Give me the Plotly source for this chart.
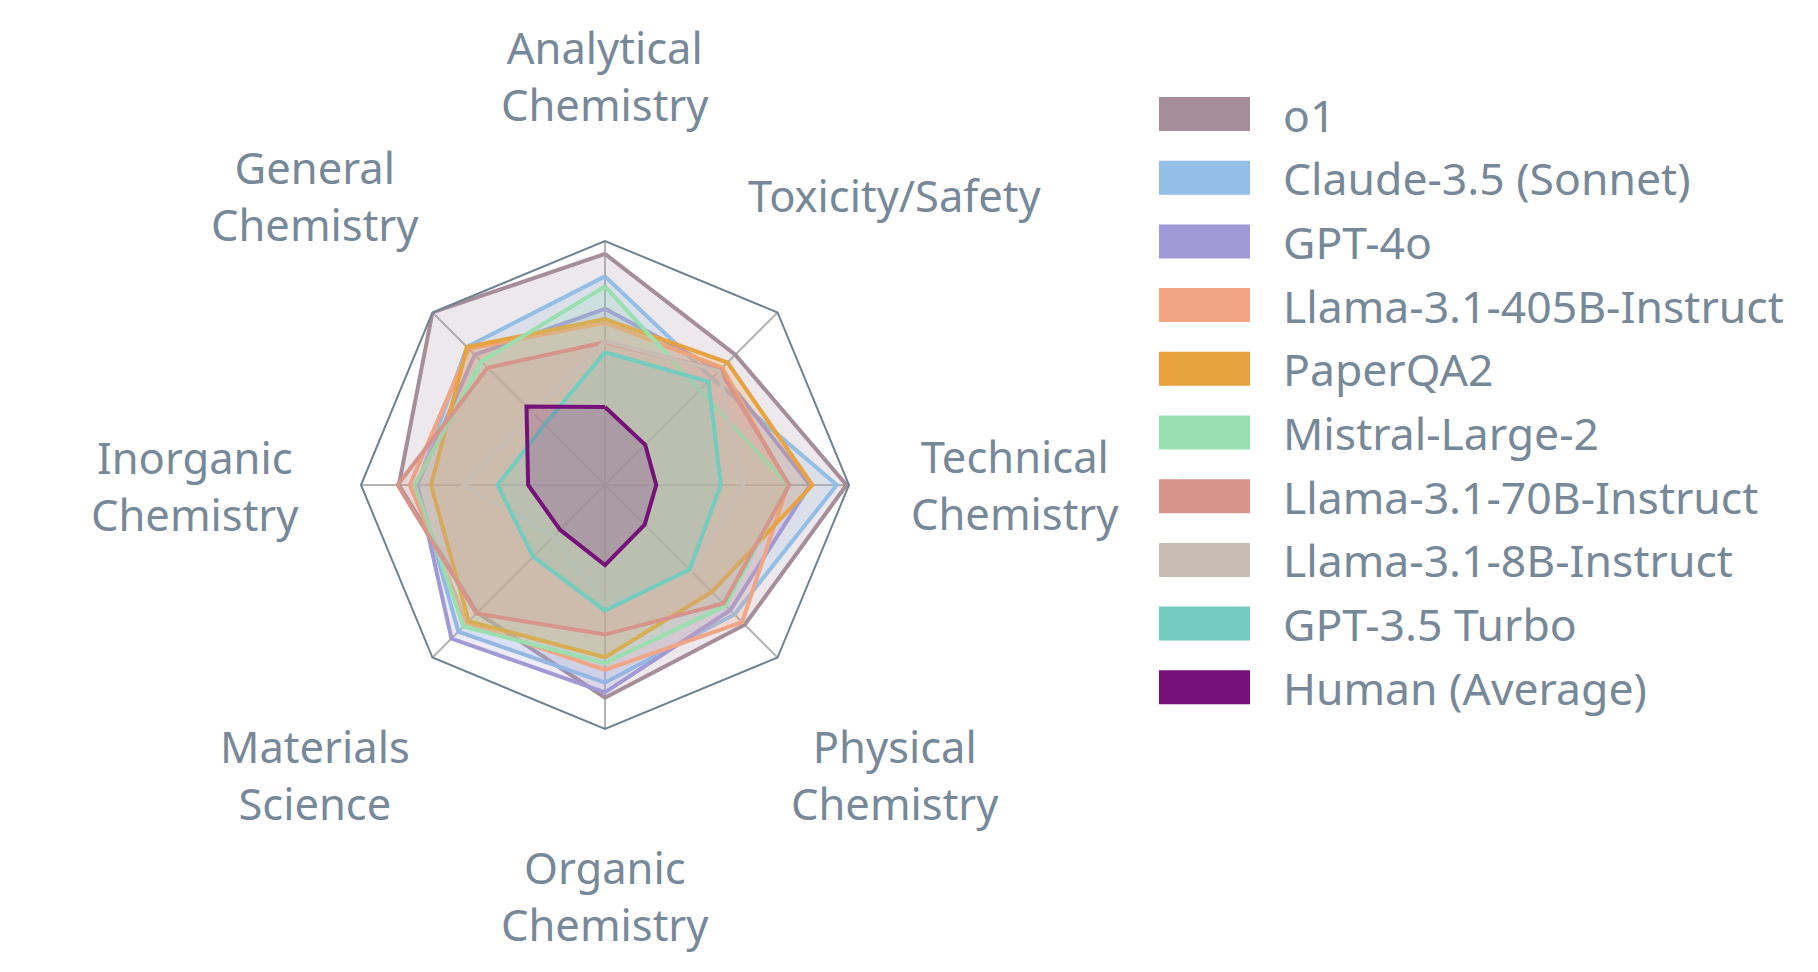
import math
import plotly.graph_objects as go

categories = ["Analytical Chemistry", "Toxicity/Safety", "Technical Chemistry", "Physical Chemistry",
              "Organic Chemistry", "Materials Science", "Inorganic Chemistry", "General Chemistry"]
category_labels = ["Analytical<br>Chemistry", "Toxicity/Safety", "Technical<br>Chemistry", "Physical<br>Chemistry",
                   "Organic<br>Chemistry", "Materials<br>Science", "Inorganic<br>Chemistry", "General<br>Chemistry"]

models = ["o1", "Claude-3.5 (Sonnet)", "GPT-4o", "Llama-3.1-405B-Instruct", "PaperQA2",
          "Mistral-Large-2", "Llama-3.1-70B-Instruct", "Llama-3.1-8B-Instruct", "GPT-3.5 Turbo",
          "Human (Average)"]

o1 = [0.947, 0.755, 0.99, 0.81, 0.872, 0.74, 0.845, 1.0]
claude = [0.855, 0.62, 0.95, 0.75, 0.81, 0.85, 0.77, 0.80]
gpt4o = [0.722, 0.665, 0.84, 0.726, 0.85, 0.89, 0.77, 0.755]
llama405 = [0.665, 0.68, 0.75, 0.795, 0.758, 0.80, 0.80, 0.79]
paperqa2 = [0.68, 0.71, 0.85, 0.62, 0.706, 0.79, 0.713, 0.80]
mistral = [0.814, 0.55, 0.75, 0.70, 0.73, 0.82, 0.78, 0.716]
llama70 = [0.585, 0.665, 0.755, 0.687, 0.613, 0.745, 0.85, 0.68]
llama8 = [0.59, 0.66, 0.565, 0.50, 0.49, 0.30, 0.58, 0.42]
gpt35 = [0.544, 0.60, 0.475, 0.49, 0.515, 0.416, 0.44, 0.35]
human = [0.32, 0.233, 0.21, 0.23, 0.328, 0.26, 0.315, 0.455]

series = [o1, claude, gpt4o, llama405, paperqa2, mistral, llama70, llama8, gpt35, human]
colors = ["#a58d99", "#93bfe6", "#a199d6", "#f1a585", "#e8a23f",
          "#99dfaf", "#d6948b", "#c8bdb3", "#74cbc0", "#751178"]

W, H = 1818, 972
CX, CY, R = 597, 477, 244
LABEL_R = 410
TEXT = "#778899"
FONT = "Noto Sans"
FS_LABEL = 43.5
FS_LEG = 44.5


def rgba(h, a):
    h = h.lstrip("#")
    return "rgba(%d,%d,%d,%.2f)" % (int(h[0:2], 16), int(h[2:4], 16), int(h[4:6], 16), a)


fig = go.Figure()
for name, vals, col in zip(models, series, colors):
    fig.add_trace(go.Scatterpolar(
        r=vals + vals[:1], theta=categories + categories[:1], name=name,
        mode="lines", fill="toself", fillcolor=rgba(col, 0.2),
        line=dict(color=col, width=4), showlegend=False, hoverinfo="name+r+theta"))

fig.update_layout(
    width=W, height=H, paper_bgcolor="white", plot_bgcolor="white",
    margin=dict(l=0, r=0, t=0, b=0),
    polar=dict(
        domain=dict(x=[(CX - R) / W, (CX + R) / W], y=[(H - CY - R) / H, (H - CY + R) / H]),
        bgcolor="white", gridshape="linear",
        radialaxis=dict(range=[0, 1], visible=True, showgrid=False, showline=False,
                        showticklabels=False, ticks=""),
        angularaxis=dict(rotation=90, direction="clockwise", categoryorder="array",
                         categoryarray=categories, showticklabels=False, ticks="",
                         showgrid=True, gridcolor="#b4b4b4", gridwidth=1.5,
                         showline=True, linecolor="#6e8290", linewidth=2),
    ),
)

annotations = []
n = len(categories)
for i, lab in enumerate(category_labels):
    ang = math.radians(90 - i * 360 / n)
    lx = CX + LABEL_R * math.cos(ang)
    ly = CY - LABEL_R * math.sin(ang)
    annotations.append(dict(x=lx / W, y=1 - ly / H, xref="paper", yref="paper", text=lab,
                            showarrow=False, xanchor="center", yanchor="middle", align="center",
                            font=dict(family=FONT, size=FS_LABEL, color=TEXT)))

# legend drawn as swatches + text
LEG_X0, LEG_X1, LEG_Y0, LEG_STEP, SW_H, TXT_X = 1151, 1242, 106, 63.7, 34, 1273
shapes = []
for k, (name, col) in enumerate(zip(models, colors)):
    yc = LEG_Y0 + k * LEG_STEP
    shapes.append(dict(type="rect", xref="paper", yref="paper",
                       x0=LEG_X0 / W, x1=LEG_X1 / W, y0=1 - (yc + SW_H / 2) / H, y1=1 - (yc - SW_H / 2) / H,
                       fillcolor=col, line=dict(width=0)))
    annotations.append(dict(x=TXT_X / W, y=1 - yc / H, xref="paper", yref="paper", text=name,
                            showarrow=False, xanchor="left", yanchor="middle",
                            font=dict(family=FONT, size=FS_LEG, color=TEXT)))

fig.update_layout(annotations=annotations, shapes=shapes)
fig.write_html("out.html")
